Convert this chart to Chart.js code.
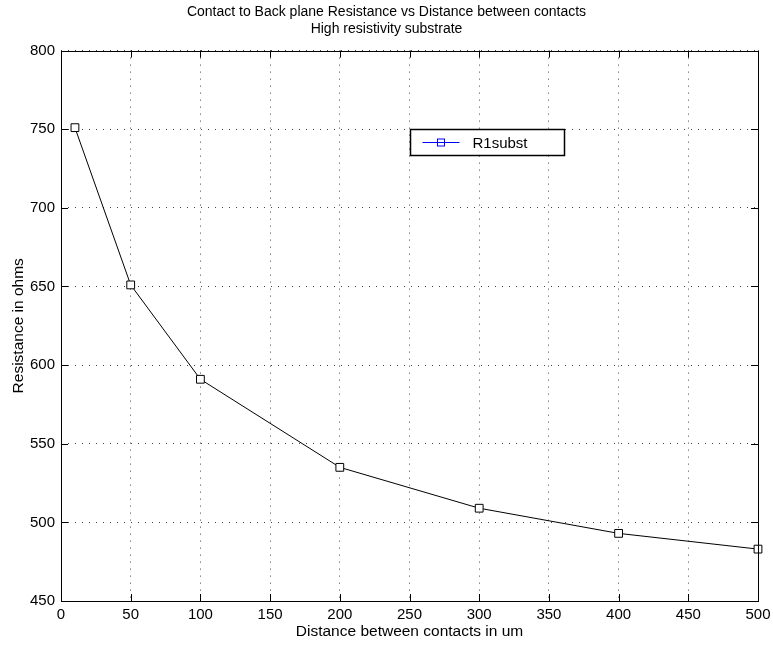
<!DOCTYPE html>
<html>
<head>
<meta charset="utf-8">
<script src="https://cdn.jsdelivr.net/npm/chart.js@4"></script>
<style>
  body { margin: 0; background: #fff; }
</style>
</head>
<body>
<canvas id="resChart" width="773" height="646"></canvas>
<script>
const distances = [10, 50, 100, 200, 300, 400, 500]
const resistance = [751, 651, 591, 535, 509, 493, 483]
const seriesName = 'R1subst'
const titleLines = ['Contact to Back plane Resistance vs Distance between contacts', 'High resistivity substrate']
const xLabel = 'Distance between contacts in um'
const yLabel = 'Resistance in ohms'

Chart.defaults.font.family = '"Liberation Sans", Arial, sans-serif'
Chart.defaults.color = '#000'

// axes box with inward ticks on all four sides
const axesBox = {
    id: 'axesBox',
    afterDatasetsDraw(chart) {
        const { ctx, chartArea: a, scales } = chart
        const len = 7
        ctx.save()
        ctx.strokeStyle = '#000'
        ctx.lineWidth = 1
        ctx.beginPath()
        scales.x.ticks.forEach(t => {
            const px = Math.round(scales.x.getPixelForValue(t.value)) + 0.5
            ctx.moveTo(px, a.bottom); ctx.lineTo(px, a.bottom - len)
            ctx.moveTo(px, a.top); ctx.lineTo(px, a.top + len)
        })
        scales.y.ticks.forEach(t => {
            const py = Math.round(scales.y.getPixelForValue(t.value)) + 0.5
            ctx.moveTo(a.left, py); ctx.lineTo(a.left + len, py)
            ctx.moveTo(a.right, py); ctx.lineTo(a.right - len, py)
        })
        ctx.stroke()
        ctx.strokeRect(Math.round(a.left) + 0.5, Math.round(a.top) + 0.5,
            Math.round(a.right - a.left), Math.round(a.bottom - a.top))
        ctx.restore()
    }
}

// legend box drawn inside the plot area
const insetLegend = {
    id: 'insetLegend',
    afterDraw(chart) {
        const { ctx, chartArea: a } = chart
        const x = Math.round(a.left + 349) + 0.5
        const y = Math.round(a.top + 78) + 0.5
        const w = 154, h = 26
        ctx.save()
        ctx.fillStyle = '#fff'
        ctx.fillRect(x, y, w, h)
        ctx.strokeStyle = '#000'
        ctx.lineWidth = 1.5
        ctx.strokeRect(x, y, w, h)
        const my = y + 13
        ctx.strokeStyle = '#0000ff'
        ctx.lineWidth = 1
        ctx.beginPath()
        ctx.moveTo(x + 12, my); ctx.lineTo(x + 49, my)
        ctx.stroke()
        ctx.strokeRect(x + 27, my - 3.5, 7, 7)
        ctx.fillStyle = '#000'
        ctx.font = '15px "Liberation Sans", Arial, sans-serif'
        ctx.textBaseline = 'middle'
        ctx.fillText(chart.data.datasets[0].label, x + 62, my + 1)
        ctx.restore()
    }
}

new Chart('resChart', {
    type: 'line',
    data: {
        datasets: [{
            label: seriesName,
            data: distances.map((d, i) => ({ x: d, y: resistance[i] })),
            borderColor: '#000',
            borderWidth: 1,
            backgroundColor: '#fff',
            pointStyle: 'rect',
            pointRadius: 5.5,
            pointBorderColor: '#000',
            pointBorderWidth: 1,
            tension: 0,
            clip: false
        }]
    },
    options: {
        responsive: false,
        animation: false,
        layout: { padding: 0 },
        plugins: {
            legend: { display: false },
            tooltip: { enabled: false },
            title: {
                display: true,
                text: titleLines,
                font: { size: 14, weight: 'normal', lineHeight: 1.2 },
                padding: { top: 4, bottom: 13 }
            }
        },
        scales: {
            x: {
                type: 'linear',
                min: 0,
                max: 500,
                ticks: { stepSize: 50, padding: 5, font: { size: 15 } },
                grid: { color: '#444', drawTicks: false, lineWidth: 1 },
                border: { display: false, dash: [1, 6] },
                title: { display: true, text: xLabel, font: { size: 15.5 }, padding: { top: 0, bottom: 5 } },
                afterFit: s => {
                    s.height = 45
                    s.paddingLeft = 0
                    s.paddingRight = 0
                }
            },
            y: {
                min: 450,
                max: 800,
                ticks: { stepSize: 50, padding: 6, font: { size: 15 } },
                grid: { color: '#444', drawTicks: false, lineWidth: 1 },
                border: { display: false, dash: [1, 6] },
                title: { display: true, text: yLabel, font: { size: 15.5 }, padding: { top: 9, bottom: 0 } },
                afterFit: s => {
                    s.width = 61
                    s.paddingTop = 0
                    s.paddingBottom = 0
                }
            },
            // empty right margin so the title stays centred on the page
            yRight: {
                position: 'right',
                min: 450,
                max: 800,
                ticks: { display: false },
                grid: { display: false },
                border: { display: false },
                afterFit: s => { s.width = 15 }
            }
        }
    },
    plugins: [axesBox, insetLegend]
})
</script>
</body>
</html>
